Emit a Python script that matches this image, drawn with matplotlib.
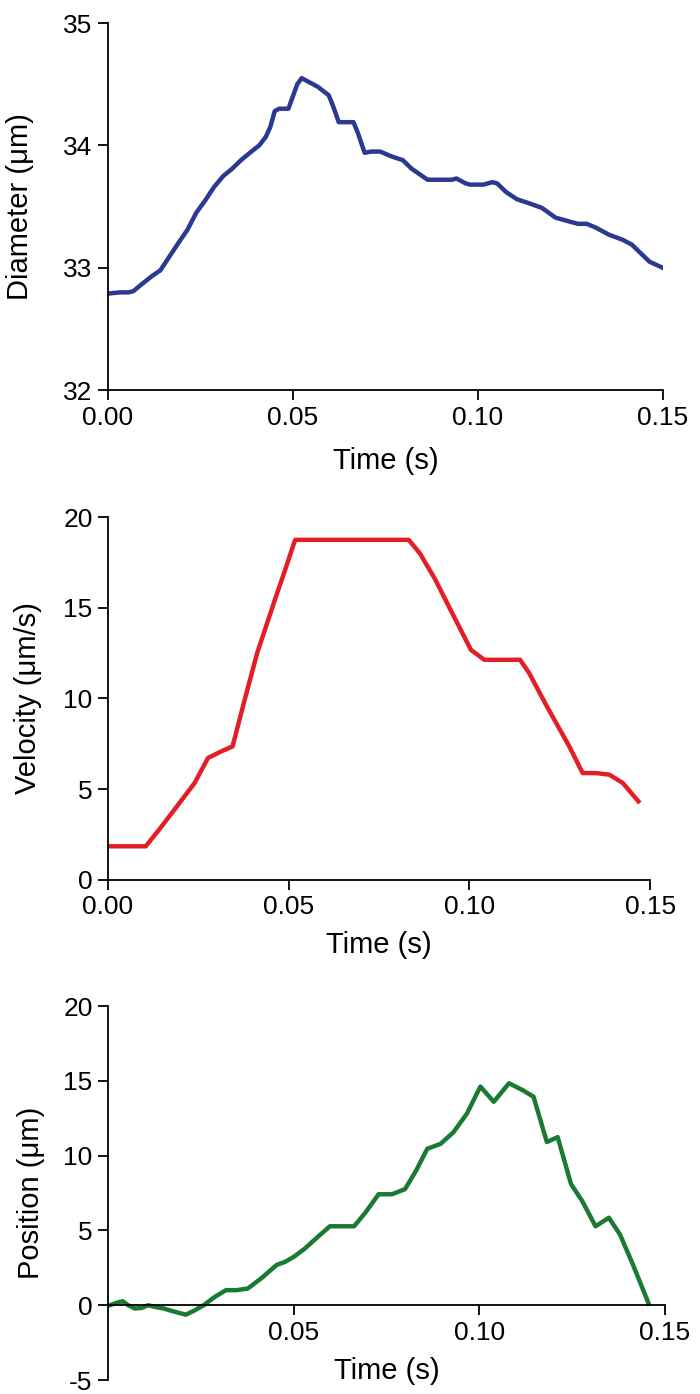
import matplotlib
matplotlib.use("Agg")
import matplotlib.pyplot as plt

plt.rcParams['font.family'] = ['Liberation Sans', 'DejaVu Sans']
plt.rcParams['axes.unicode_minus'] = False

# diameter trace
t_diam = [0.0, 0.0033, 0.0057, 0.0069, 0.0093, 0.0118, 0.0142, 0.0166, 0.019, 0.0215,
          0.0239, 0.0263, 0.0287, 0.0312, 0.0336, 0.036, 0.0384, 0.0409, 0.0427, 0.0439,
          0.0451, 0.0463, 0.0488, 0.050, 0.0512, 0.0524, 0.0542, 0.0567, 0.0597, 0.0609,
          0.0624, 0.0664, 0.0676, 0.0694, 0.0712, 0.0736, 0.0767, 0.0797, 0.0821, 0.0845,
          0.0864, 0.0930, 0.0942, 0.0967, 0.0979, 0.1015, 0.1039, 0.1052, 0.1076, 0.1106,
          0.1136, 0.1173, 0.121, 0.1234, 0.127, 0.1294, 0.1318, 0.1355, 0.1391, 0.1416,
          0.1440, 0.1464, 0.150]
diameter = [32.79, 32.80, 32.80, 32.81, 32.87, 32.93, 32.98, 33.09, 33.20, 33.31,
            33.45, 33.55, 33.66, 33.75, 33.81, 33.88, 33.94, 34.00, 34.07, 34.15,
            34.28, 34.30, 34.30, 34.40, 34.50, 34.55, 34.52, 34.48, 34.41, 34.32,
            34.19, 34.19, 34.10, 33.94, 33.95, 33.95, 33.91, 33.88, 33.81, 33.76,
            33.72, 33.72, 33.73, 33.69, 33.68, 33.68, 33.70, 33.69, 33.62, 33.56,
            33.53, 33.49, 33.41, 33.39, 33.36, 33.36, 33.33, 33.27, 33.23, 33.19,
            33.12, 33.05, 33.00]

# velocity trace
t_vel = [0.0, 0.0105, 0.0142, 0.0191, 0.024, 0.0277, 0.0314, 0.0345, 0.0376, 0.0413,
         0.0462, 0.0487, 0.0518, 0.0832, 0.0863, 0.0906, 0.0943, 0.1004, 0.1041, 0.114,
         0.1165, 0.1214, 0.1276, 0.1313, 0.135, 0.1387, 0.1424, 0.1467]
velocity = [1.84, 1.84, 2.76, 4.04, 5.33, 6.71, 7.08, 7.35, 9.74, 12.5,
            15.44, 16.9, 18.75, 18.75, 18.0, 16.54, 15.07, 12.68, 12.13, 12.13,
            11.4, 9.56, 7.35, 5.88, 5.88, 5.79, 5.33, 4.32]

# position trace
t_pos = [0.0005, 0.0026, 0.004, 0.0055, 0.0073, 0.0091, 0.0109, 0.0127, 0.0151, 0.0175,
         0.021, 0.0234, 0.0258, 0.0288, 0.0318, 0.0347, 0.0377, 0.0413, 0.0455, 0.0479,
         0.0502, 0.0532, 0.0562, 0.0598, 0.0622, 0.0663, 0.0693, 0.0729, 0.0765, 0.080,
         0.083, 0.086, 0.0896, 0.0931, 0.0967, 0.1003, 0.1039, 0.108, 0.1116, 0.1146,
         0.1182, 0.1211, 0.1247, 0.1277, 0.1313, 0.1349, 0.1379, 0.1414, 0.1456]
position = [0.0, 0.18, 0.27, 0.0, -0.22, -0.18, 0.0, -0.11, -0.22, -0.40,
            -0.63, -0.34, 0.0, 0.56, 1.01, 1.01, 1.12, 1.80, 2.70, 2.92,
            3.26, 3.82, 4.50, 5.28, 5.28, 5.28, 6.18, 7.42, 7.42, 7.76,
            9.0, 10.46, 10.79, 11.58, 12.82, 14.62, 13.60, 14.84, 14.39, 13.94,
            10.91, 11.24, 8.10, 6.97, 5.28, 5.85, 4.72, 2.70, 0.11]

time_ticks = [0.0, 0.05, 0.10, 0.15]
fs = 19    # tick labels
lfs = 21   # axis labels

fig = plt.figure(figsize=(7, 13.94), dpi=100)
ax1 = fig.add_axes([0.154, 0.720, 0.793, 0.2635])
ax2 = fig.add_axes([0.154, 0.369, 0.775, 0.260])
ax3 = fig.add_axes([0.154, 0.010, 0.796, 0.2683])


def style(ax):
    for s in ['top', 'right']:
        ax.spines[s].set_visible(False)
    for s in ['left', 'bottom']:
        ax.spines[s].set_linewidth(1.3)
    ax.tick_params(direction='out', length=7, width=1.3, labelsize=fs, pad=4)


ax1.plot(t_diam, diameter, color='#2b3990', lw=3.2)
ax1.set_xlim(0, 0.15)
ax1.set_ylim(32, 35)
ax1.set_yticks([32, 33, 34, 35])
ax1.set_xticks(time_ticks)
ax1.set_xticklabels([f"{v:.2f}" for v in time_ticks])
ax1.set_ylabel("Diameter (\u03bcm)", fontsize=lfs)
ax1.set_xlabel("Time (s)", fontsize=lfs)
ax1.yaxis.set_label_coords(-0.133, 0.5)
ax1.xaxis.set_label_coords(0.5, -0.155)
style(ax1)

ax2.plot(t_vel, velocity, color='#e41e26', lw=3.2)
ax2.set_xlim(0, 0.15)
ax2.set_ylim(0, 20)
ax2.set_yticks([0, 5, 10, 15, 20])
ax2.set_xticks(time_ticks)
ax2.set_xticklabels([f"{v:.2f}" for v in time_ticks])
ax2.set_ylabel("Velocity (\u03bcm/s)", fontsize=lfs)
ax2.set_xlabel("Time (s)", fontsize=lfs)
ax2.yaxis.set_label_coords(-0.122, 0.5)
ax2.xaxis.set_label_coords(0.5, -0.143)
style(ax2)

ax3.plot(t_pos, position, color='#1b7a31', lw=3.2)
ax3.set_xlim(0, 0.15)
ax3.set_ylim(-5, 20)
ax3.set_yticks([-5, 0, 5, 10, 15, 20])
ax3.set_xticks(time_ticks[1:])
ax3.set_xticklabels([f"{v:.2f}" for v in time_ticks[1:]])
ax3.spines['bottom'].set_position(('data', 0))
ax3.set_ylabel("Position (\u03bcm)", fontsize=lfs)
ax3.set_xlabel("Time (s)", fontsize=lfs)
ax3.yaxis.set_label_coords(-0.113, 0.5)
ax3.xaxis.set_label_coords(0.5, 0.062)
style(ax3)

fig.savefig("out.png", dpi=100)
